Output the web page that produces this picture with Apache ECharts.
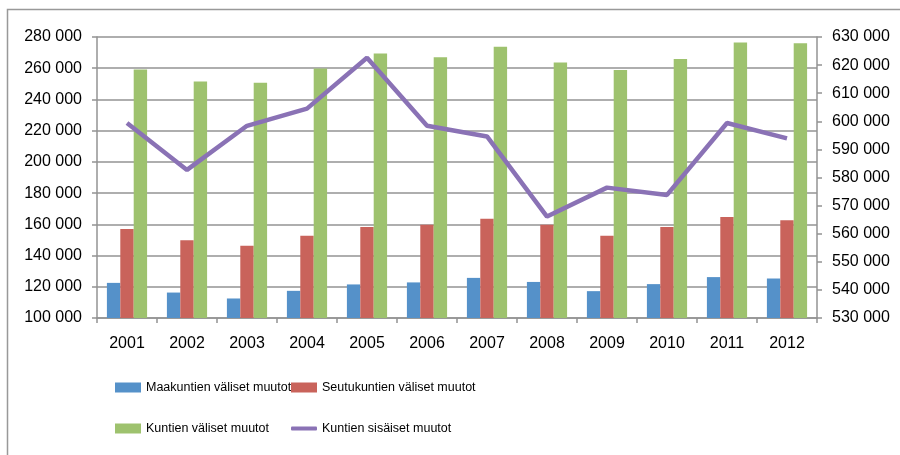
<!DOCTYPE html>
<html>
<head>
<meta charset="utf-8">
<script src="https://cdn.jsdelivr.net/npm/echarts@6/dist/echarts.min.js"></script>
<style>
  html, body { margin: 0; padding: 0; background: #fff; }
  #main { width: 900px; height: 455px; }
</style>
</head>
<body>
<div id="main"></div>
<script>
// vuodet
var years = ['2001', '2002', '2003', '2004', '2005', '2006', '2007', '2008', '2009', '2010', '2011', '2012']
// muuttoja, vasen akseli
var maakuntien = [122500, 116300, 112500, 117400, 121500, 122800, 125700, 123100, 117200, 121700, 126200, 125300]
var seutukuntien = [157000, 149800, 146300, 152700, 158300, 159800, 163500, 159800, 152700, 158300, 164700, 162600]
var kuntien = [259200, 251500, 250700, 259900, 269500, 267000, 273800, 263700, 258800, 265900, 276400, 276000]
// kuntien sisäiset, oikea akseli
var sisaiset = [599400, 582700, 598400, 604500, 622600, 598400, 594600, 566100, 576400, 573800, 599400, 593900]

var names = ['Maakuntien väliset muutot', 'Seutukuntien väliset muutot', 'Kuntien väliset muutot', 'Kuntien sisäiset muutot']
var colors = ['#5591C9', '#C9635B', '#9EC26E', '#8A72B5']

var font = 'Liberation Sans, Arial, sans-serif'

// välilyönti tuhansiin
function fmt(v) {
  return String(v).replace(/\B(?=(\d{3})+(?!\d))/g, ' ')
}

var myChart = echarts.init(document.getElementById('main'))

function legendAt(name, left, top, icon, h) {
  return {
    data: [name],
    left: left,
    top: top,
    icon: icon,
    itemWidth: 26,
    itemHeight: h,
    padding: 0,
    textStyle: { fontFamily: font, fontSize: 12.5, color: '#000' },
  }
}

var gridLine = { show: true, lineStyle: { color: '#939393', width: 1.5 } }
var axisLine = { show: true, lineStyle: { color: '#939393', width: 1.5 } }
var tick = { show: true, length: 5, lineStyle: { color: '#939393', width: 1.5 } }

var option = {
  animation: false,
  backgroundColor: '#fff',
  color: colors,
  graphic: [
    {
      type: 'rect',
      shape: { x: 7.5, y: 9.5, width: 1000, height: 1000 },
      style: { fill: 'none', stroke: '#999', lineWidth: 1.5 },
      silent: true,
    },
  ],
  grid: { left: 97, right: 83, top: 37, bottom: 137 },
  legend: [
    legendAt(names[0], 115, 381, 'rect', 10),
    legendAt(names[1], 291, 381, 'rect', 10),
    legendAt(names[2], 115, 422, 'rect', 10),
    legendAt(names[3], 291, 422, 'roundRect', 4),
  ],
  xAxis: {
    type: 'category',
    data: years,
    axisLine: axisLine,
    axisTick: tick,
    axisLabel: { fontFamily: font, fontSize: 16, color: '#000', margin: 18 },
  },
  yAxis: [
    {
      type: 'value',
      min: 100000,
      max: 280000,
      interval: 20000,
      axisLine: axisLine,
      axisTick: tick,
      splitLine: gridLine,
      axisLabel: { fontFamily: font, fontSize: 16, color: '#000', margin: 15, formatter: fmt },
    },
    {
      type: 'value',
      min: 530000,
      max: 630000,
      interval: 10000,
      position: 'right',
      axisLine: axisLine,
      axisTick: tick,
      splitLine: { show: false },
      axisLabel: { fontFamily: font, fontSize: 16, color: '#000', margin: 15, formatter: fmt },
    },
  ],
  series: [
    { name: names[0], type: 'bar', data: maakuntien, barGap: '0%', barCategoryGap: '33%' },
    { name: names[1], type: 'bar', data: seutukuntien, barGap: '0%', barCategoryGap: '33%' },
    { name: names[2], type: 'bar', data: kuntien, barGap: '0%', barCategoryGap: '33%' },
    {
      name: names[3],
      type: 'line',
      yAxisIndex: 1,
      data: sisaiset,
      showSymbol: false,
      symbol: 'none',
      lineStyle: { width: 4.5, color: colors[3] },
      z: 5,
    },
  ],
}

myChart.setOption(option)
</script>
</body>
</html>
